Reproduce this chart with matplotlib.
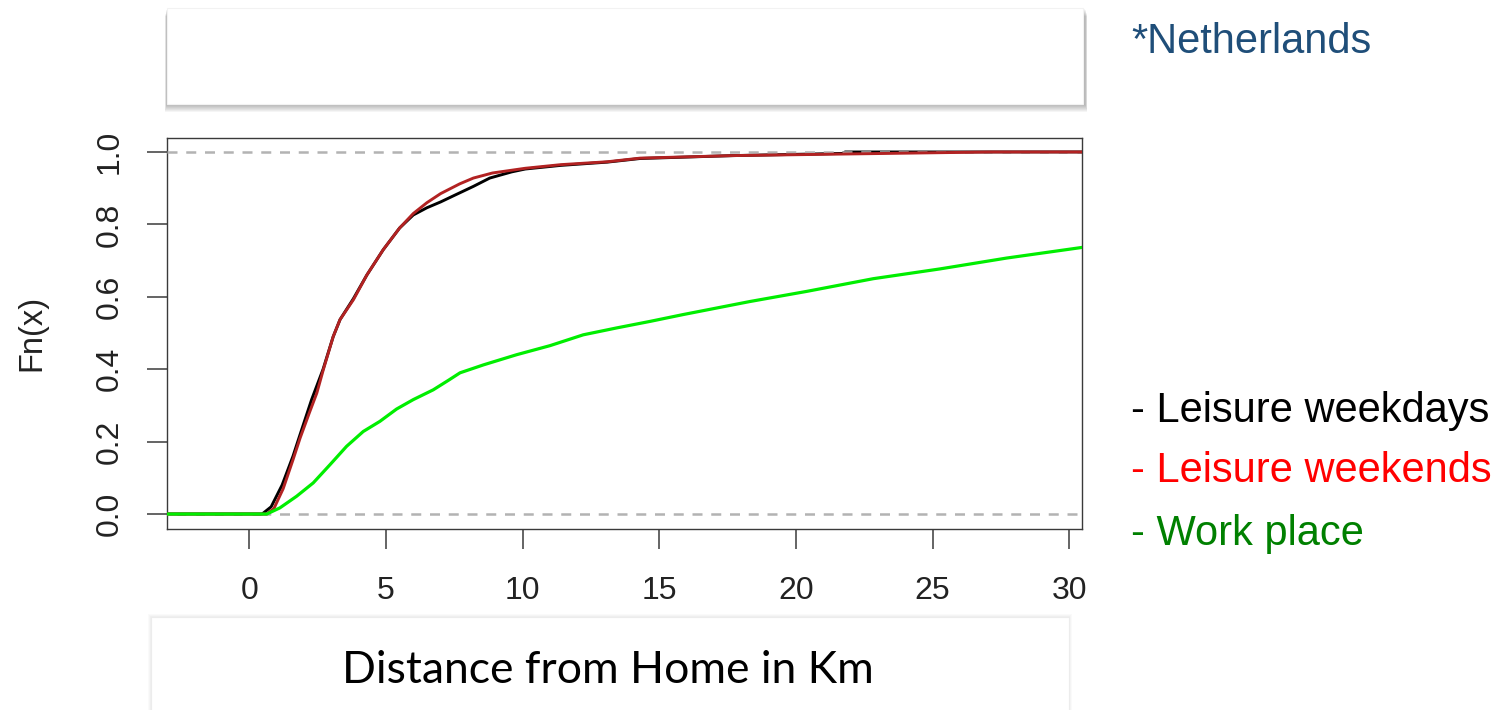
import matplotlib
matplotlib.use('Agg')
import matplotlib.pyplot as plt
from matplotlib.patches import Rectangle

# ---------------- data ----------------
weekdays_x = [-3.5, 0.47, 0.8, 1.2, 1.6, 1.86, 2.28, 2.7, 3.07, 3.32, 3.81, 4.3, 4.9, 5.5,
              6.0, 6.5, 7.0, 7.5, 8.2, 8.8, 9.6, 10.1, 11.4, 13.1, 14.3, 17.7, 21.7, 21.8, 31.0]
weekdays_F = [0.0, 0.0, 0.02, 0.08, 0.16, 0.22, 0.316, 0.40, 0.49, 0.537, 0.595, 0.66, 0.73, 0.79,
              0.826, 0.846, 0.862, 0.88, 0.905, 0.928, 0.945, 0.953, 0.963, 0.972, 0.982, 0.99, 0.996, 1.0, 1.0]

weekends_x = [-3.5, 0.64, 0.9, 1.24, 1.6, 1.86, 2.2, 2.47, 2.71, 3.07, 3.32, 3.81, 4.3, 4.9, 5.5,
              6.0, 6.5, 7.0, 7.7, 8.2, 8.9, 10.1, 11.4, 13.1, 14.3, 17.7, 21.4, 27.1, 31.0]
weekends_F = [0.0, 0.0, 0.015, 0.07, 0.15, 0.21, 0.28, 0.334, 0.399, 0.49, 0.537, 0.592, 0.66, 0.73, 0.79,
              0.83, 0.86, 0.885, 0.912, 0.928, 0.942, 0.955, 0.965, 0.973, 0.983, 0.99, 0.994, 1.0, 1.0]

work_x = [-3.5, 0.64, 1.12, 1.73, 2.34, 2.95, 3.56, 4.17, 4.78, 5.39, 6.0, 6.73, 7.3, 7.71, 8.57,
          9.78, 11.0, 12.22, 13.44, 14.66, 15.88, 17.1, 18.32, 20.4, 22.83, 25.27, 27.71, 31.0]
work_F = [0.0, 0.0, 0.017, 0.049, 0.086, 0.136, 0.187, 0.228, 0.256, 0.29, 0.316, 0.343, 0.37, 0.39, 0.412,
          0.44, 0.465, 0.495, 0.514, 0.532, 0.551, 0.569, 0.587, 0.615, 0.65, 0.677, 0.707, 0.742]

x_ticks = [0, 5, 10, 15, 20, 25, 30]
y_ticks = [0.0, 0.2, 0.4, 0.6, 0.8, 1.0]
y_tick_labels = ["0.0", "0.2", "0.4", "0.6", "0.8", "1.0"]

legend_labels = ["- Leisure weekdays", "- Leisure weekends", "- Work place"]
legend_colors = ["#000000", "#FF0000", "#008000"]

# ---------------- figure ----------------
W, H = 1506, 710
fig = plt.figure(figsize=(W / 100, H / 100), dpi=100)
fig.patch.set_facecolor('white')

def fx(px):
    return px / W

def fy(py):
    return 1 - py / H

# top empty box with shadow
for k in range(1, 9):
    fig.patches.append(Rectangle((fx(167 - k * 0.3), fy(104 + k)), fx(918 + k * 0.6), (96) / H,
                                 transform=fig.transFigure, facecolor='black',
                                 alpha=0.04, edgecolor='none', zorder=0))
fig.patches.append(Rectangle((fx(167), fy(104)), fx(916), 96 / H, transform=fig.transFigure,
                             facecolor='white', edgecolor='#f2f2f2', lw=0.8, zorder=1))

# bottom box with x-axis title
for k in range(1, 4):
    fig.patches.append(Rectangle((fx(151 - k), fy(712)), fx(918 + 2 * k), (712 - 617 + k) / H,
                                 transform=fig.transFigure, facecolor='black',
                                 alpha=0.02, edgecolor='none', zorder=0))
fig.patches.append(Rectangle((fx(151), fy(712)), fx(918), (712 - 617) / H, transform=fig.transFigure,
                             facecolor='white', edgecolor='#ececec', lw=0.8, zorder=1))
fig.text(fx(608), fy(683), "Distance from Home in Km", family='Lato', fontsize=32,
         color='black', ha='center', va='baseline', zorder=2)

# axes
ax_left, ax_right, ax_top, ax_bottom = 167, 1081.5, 137.5, 528.5
ax = fig.add_axes([fx(ax_left), fy(ax_bottom), (ax_right - ax_left) / W, (ax_bottom - ax_top) / H])
ax.set_xlim(-3.011, 30.45)
ax.set_ylim(-0.04, 1.04)

ax.plot(weekdays_x, weekdays_F, color='black', lw=2.1, zorder=2, solid_joinstyle='round')
ax.axhline(0, color='#B3B3B3', lw=1.8, ls=(0, (4.0, 3.5)), zorder=3)
ax.axhline(1, color='#B3B3B3', lw=1.8, ls=(0, (4.0, 3.5)), zorder=3)
ax.plot(weekends_x, weekends_F, color='#B22222', lw=2.1, zorder=4, solid_joinstyle='round')
ax.plot(work_x, work_F, color='#00EE00', lw=2.3, zorder=5, solid_joinstyle='round')

for s in ax.spines.values():
    s.set_color('#3a3a3a')
    s.set_linewidth(1.0)

ax.set_xticks(x_ticks)
ax.set_xticklabels([str(t) for t in x_ticks])
ax.set_yticks(y_ticks)
ax.set_yticklabels(y_tick_labels)
ax.tick_params(axis='both', direction='out', length=14.4, width=1.1, color='#3a3a3a',
               labelsize=23, labelcolor='#222222')
ax.tick_params(axis='x', pad=20)
ax.tick_params(axis='y', pad=16)
for lab in ax.get_xticklabels() + ax.get_yticklabels():
    lab.set_family('Liberation Sans')
for lab in ax.get_yticklabels():
    lab.set_rotation(90)
    lab.set_va('center')

ax.set_ylabel("Fn(x)", family='Liberation Sans', fontsize=23.5, color='#222222', labelpad=34)

# right-hand texts
fig.text(fx(1131), fy(53), "*Netherlands", family='Liberation Sans', fontsize=30,
         color='#1F4E79', ha='left', va='baseline')
for lbl, col, base in zip(legend_labels, legend_colors, [422, 482, 545]):
    fig.text(fx(1131), fy(base), lbl, family='Liberation Sans', fontsize=30,
             color=col, ha='left', va='baseline')

fig.savefig('out.png', dpi=100)
